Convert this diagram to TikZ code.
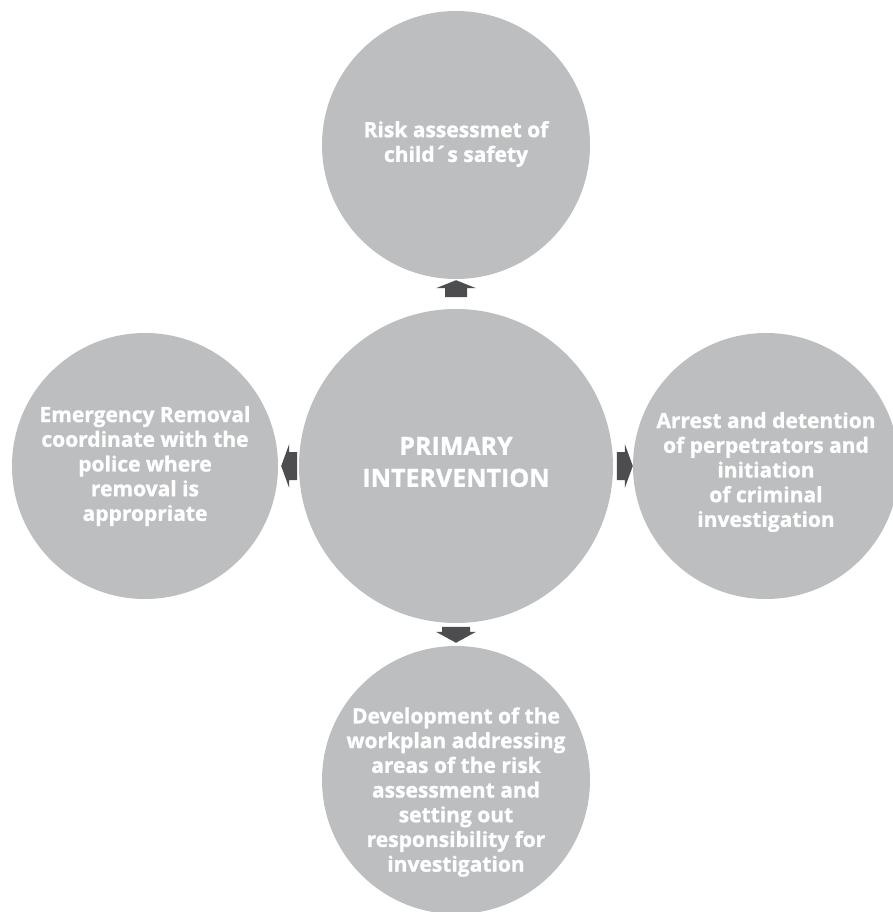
\documentclass[tikz,border=0pt]{standalone}
\usepackage{fontspec}
\setmainfont{Open Sans}[BoldFeatures={FakeBold=1.2}]
\usetikzlibrary{calc}
\definecolor{bubblegray}{HTML}{BCBEC0}
\definecolor{arrowgray}{HTML}{4D4D4F}
\tikzset{
  bubble/.style={circle, fill=bubblegray, draw=none, inner sep=0pt},
  bubbletext/.style={text=white, align=center, font=\fontsize{21}{24.7}\selectfont\bfseries, inner sep=0pt},
  maintext/.style={text=white, align=center, font=\fontsize{25}{32}\selectfont\bfseries, inner sep=0pt},
  blockarrow/.style={fill=arrowgray, draw=none}
}
\begin{document}
\begin{tikzpicture}[x=1pt,y=-1pt]
\useasboundingbox (0,0) rectangle (893,912);
\clip (0,0) rectangle (893,912);
\fill[white] (0,0) rectangle (893,912);
% circles
\node[bubble, minimum size=268pt] (top) at (456,145) {};
\node[bubble, minimum size=266pt] (left) at (145,466) {};
\node[bubble, minimum size=266pt] (right) at (766,466) {};
\node[bubble, minimum size=268pt] (bottom) at (456,780) {};
\node[bubble, minimum size=314pt] (center) at (456,466) {};
% texts
\node[bubbletext] (toptext) at ($(top)+(0,-1)$) {Risk assessmet of\\child´s safety};
\node[bubbletext] (lefttext) at ($(left)+(0,0)$) {Emergency Removal\\coordinate with the\\police where\\removal is\\appropriate};
\node[bubbletext] (righttext) at ($(right)+(0,6)$) {Arrest and detention\\of perpetrators and\\initiation\\of criminal\\investigation};
\node[bubbletext] (bottomtext) at ($(bottom)+(0,12)$) {Development of the\\workplan addressing\\areas of the risk\\assessment and\\setting out\\responsibility for\\investigation};
\node[maintext] (maintext) at ($(center)+(0,-4)$) {PRIMARY\\INTERVENTION};
% arrows
\coordinate (tupA) at ($(top.south)+(0,1)$);
\fill[blockarrow, shift={(tupA)}] (0,0) -- (20,8) -- (11,8) -- (11,17) -- (-11,17) -- (-11,8) -- (-20,8) -- cycle;
\coordinate (tdownA) at ($(bottom.north)+(0,-3)$);
\fill[blockarrow, shift={(tdownA)}] (0,0) -- (20,-11) -- (14,-11) -- (14,-16) -- (-14,-16) -- (-14,-11) -- (-20,-11) -- cycle;
\coordinate (tleftA) at ($(left.east)+(3,0)$);
\fill[blockarrow, shift={(tleftA)}] (0,0) -- (8,-22) -- (8,-14) -- (16,-14) -- (16,14) -- (8,14) -- (8,22) -- cycle;
\coordinate (trightA) at ($(right.west)+(0,0)$);
\fill[blockarrow, shift={(trightA)}] (0,0) -- (-8,-22) -- (-8,-14) -- (-16,-14) -- (-16,14) -- (-8,14) -- (-8,22) -- cycle;
\end{tikzpicture}
\end{document}
